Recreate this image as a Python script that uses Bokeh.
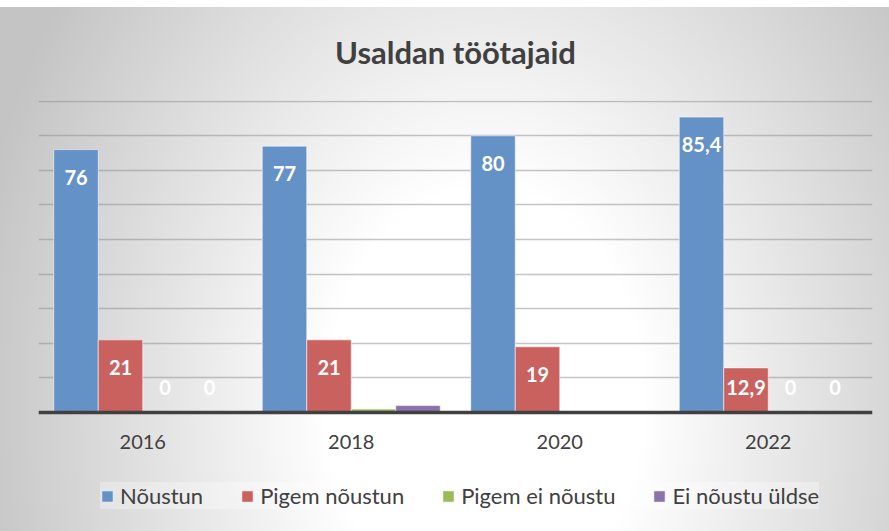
from bokeh.plotting import figure
from bokeh.models import ColumnDataSource, FactorRange, Range1d, Legend, LegendItem, FixedTicker
from bokeh.transform import dodge
from bokeh.core.properties import value
from bokeh.embed import file_html
from bokeh.resources import INLINE

# ---- data ----
years = ["2016", "2018", "2020", "2022"]
noustun = [76, 77, 80, 85.4]
pigem_noustun = [21, 21, 19, 12.9]
pigem_ei_noustu = [0, 1, 0, 0]
ei_noustu_uldse = [0, 2, 0, 0]
series_names = ["Nõustun", "Pigem nõustun", "Pigem ei nõustu", "Ei nõustu üldse"]
series_values = [noustun, pigem_noustun, pigem_ei_noustu, ei_noustu_uldse]
grid_values = [10, 20, 30, 40, 50, 60, 70, 80, 90]
title_text = "Usaldan töötajaid"

# ---- styles / layout ----
colors = ["#6592c6", "#c9625f", "#9bbb59", "#8a72aa"]
FONT = "Lato"
TXT = "#404040"
bar_w = 0.2134
offsets = [-1.5 * bar_w, -0.5 * bar_w, 0.5 * bar_w, 1.5 * bar_w]
FW, FH = 834, 431
Y_LO, Y_HI = -34.4, 90.2   # extra room below the axis holds the legend

p = figure(
    x_range=FactorRange(*years, range_padding=0),
    y_range=Range1d(Y_LO, Y_HI),
    frame_width=FW, frame_height=FH,
    output_backend="svg", toolbar_location=None,
    min_border_left=38, min_border_right=17, min_border_top=100, min_border_bottom=0,
)
p.border_fill_color = None
p.background_fill_color = None
p.outline_line_color = None
p.styles = {"background-image":
            "linear-gradient(to bottom, #ffffff 0px, #ffffff 7px, rgba(255,255,255,0) 7px), "
            "radial-gradient(ellipse 520px 700px at 485px 400px, #ffffff 0%, #ffffff 30%, #c4c4c4 100%)"}

p.title.text = title_text
p.title.align = "center"
p.title.text_font = FONT
p.title.text_font_style = "bold"
p.title.text_font_size = "31px"
p.title.text_color = TXT
p.title.standoff = 60

items = []
for name, vals, col, off in zip(series_names, series_values, colors, offsets):
    src = ColumnDataSource(dict(
        year=years,
        v=vals,
        lab=[("%g" % v).replace(".", ",") for v in vals],
        ly=[max(v - 8.0, 7.3) for v in vals],
    ))
    r = p.vbar(x=dodge("year", off, range=p.x_range), top="v", bottom=0, width=bar_w,
               source=src, fill_color=col, line_color="white", line_alpha=0.55, line_width=1)
    p.text(x=dodge("year", off, range=p.x_range), y="ly", text="lab", source=src,
           text_color="white", text_font=value(FONT), text_font_style="bold",
           text_font_size="20px", text_align="center", text_baseline="middle")
    items.append(LegendItem(label=name, renderers=[r]))

p.yaxis.visible = False
p.xgrid.visible = False
p.ygrid.ticker = FixedTicker(ticks=grid_values)
p.ygrid.grid_line_color = "#8c8c8c"
p.ygrid.grid_line_alpha = 0.5
p.ygrid.grid_line_width = 1.5

p.xaxis.fixed_location = 0
p.xaxis.axis_line_color = "#404040"
p.xaxis.axis_line_width = 3.5
p.xaxis.major_tick_line_color = None
p.xaxis.minor_tick_line_color = None
p.xaxis.major_tick_out = 0
p.xaxis.major_tick_in = 0
p.xaxis.minor_tick_out = 0
p.xaxis.major_label_text_font = FONT
p.xaxis.major_label_text_font_size = "20px"
p.xaxis.major_label_text_color = TXT
p.xaxis.major_label_standoff = 22

legend = Legend(items=items, orientation="horizontal", location=(62, 22))
legend.label_text_font = FONT
legend.label_text_font_size = "22px"
legend.label_text_color = TXT
legend.glyph_width = 14
legend.glyph_height = 14
legend.label_standoff = 6
legend.spacing = 37
legend.padding = 11
legend.margin = 0
legend.background_fill_color = "white"
legend.background_fill_alpha = 0.3
legend.border_line_color = None
p.add_layout(legend, "center")

open("out.html", "w").write(file_html(p, INLINE))
